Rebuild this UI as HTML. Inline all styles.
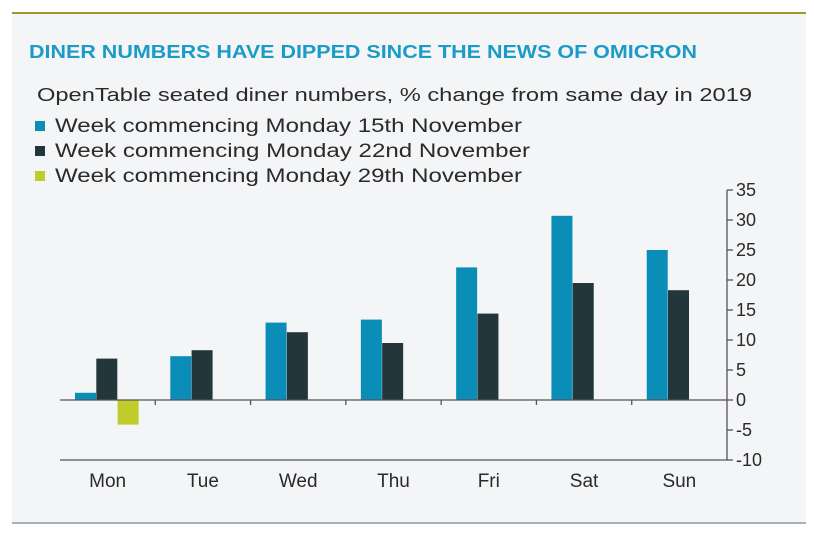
<!DOCTYPE html>
<html><head><meta charset="utf-8"><style>
body{margin:0;background:#fff;}
svg{display:block;font-family:"Liberation Sans",sans-serif;}
</style></head><body>
<svg id="chart" width="814" height="534">
<rect x="12" y="13" width="794" height="510" fill="#f4f5f7"/>
<line x1="12" y1="13" x2="806" y2="13" stroke="#a0962a" stroke-width="2"/>
<line x1="12" y1="523" x2="806" y2="523" stroke="#a9b0b8" stroke-width="2"/>
<text x="29" y="58" font-size="18" font-weight="bold" fill="#1b9bc7" textLength="668" lengthAdjust="spacingAndGlyphs">DINER NUMBERS HAVE DIPPED SINCE THE NEWS OF OMICRON</text>
<text x="37" y="101" font-size="18" fill="#2a2a2a" textLength="715" lengthAdjust="spacingAndGlyphs">OpenTable seated diner numbers, % change from same day in 2019</text>
<g id="legend"></g>
<g id="bars"></g>
<g id="axes"></g>
</svg>
<script>
const categories=["Mon","Tue","Wed","Thu","Fri","Sat","Sun"];
const series1=[1.2,7.3,12.9,13.4,22.1,30.7,25.0];
const series2=[6.9,8.3,11.3,9.5,14.4,19.5,18.3];
const series3=[-4.1,null,null,null,null,null,null];
const seriesNames=["Week commencing Monday 15th November","Week commencing Monday 22nd November","Week commencing Monday 29th November"];
const yTicks=[35,30,25,20,15,10,5,0,-5,-10];

const colors=["#0a8eb8","#23363b","#bfcc2a"];
const legendLens=[467,475,467];
const NS="http://www.w3.org/2000/svg";
const x0=60,x1=727,yMin=-10,yMax=35,pyTop=190,pyBot=460;
const band=(x1-x0)/categories.length;
function y(v){return pyBot-(v-yMin)/(yMax-yMin)*(pyBot-pyTop);}
function xs(i,k){return x0+i*band+15+k*21.3;}
function mk(tag,attrs,parent){const e=document.createElementNS(NS,tag);for(const a in attrs)e.setAttribute(a,attrs[a]);parent.appendChild(e);return e;}
const legend=document.getElementById('legend'),bars=document.getElementById('bars'),axes=document.getElementById('axes');
seriesNames.forEach((n,k)=>{
  const r=mk('rect',{x:35,y:121+k*25,width:10,height:10,fill:colors[k]},legend);
  
  
  const t=mk('text',{x:55,y:132+k*25,'font-size':19,fill:'#2a2a2a',textLength:legendLens[k],lengthAdjust:'spacingAndGlyphs'},legend);
  t.textContent=n;
  
  
});
[series1,series2,series3].forEach((s,k)=>{
  s.forEach((v,i)=>{
    if(v===null)return;
    const top=Math.min(y(v),y(0)),h=Math.abs(y(v)-y(0));
    const r=mk('rect',{x:xs(i,k),y:top,width:21,height:h,fill:colors[k]},bars);
    
    
  });
});
let l=mk('line',{x1:x0,y1:y(0),x2:x1,y2:y(0),stroke:'#555','stroke-width':1.3},axes);


l=mk('line',{x1:x0,y1:pyBot,x2:x1,y2:pyBot,stroke:'#555','stroke-width':1.3},axes);


l=mk('line',{x1:x1,y1:pyTop,x2:x1,y2:pyBot,stroke:'#555','stroke-width':1.3},axes);


for(let i=1;i<categories.length;i++){
  const t=mk('line',{x1:x0+i*band,y1:y(0),x2:x0+i*band,y2:y(0)+5,stroke:'#555','stroke-width':1.3},axes);
  
  
}
yTicks.forEach(v=>{
  const t=mk('line',{x1:x1,y1:y(v),x2:x1+6,y2:y(v),stroke:'#555','stroke-width':1.3},axes);
  
  
  const tx=mk('text',{x:736,y:y(v)+6,'font-size':18,fill:'#2a2a2a'},axes);
  tx.textContent=v;
  
  
});
categories.forEach((c,i)=>{
  const t=mk('text',{x:x0+(i+0.5)*band,y:487,'font-size':19,fill:'#2a2a2a','text-anchor':'middle'},axes);
  t.textContent=c;
  
  
});
</script>
</body></html>
